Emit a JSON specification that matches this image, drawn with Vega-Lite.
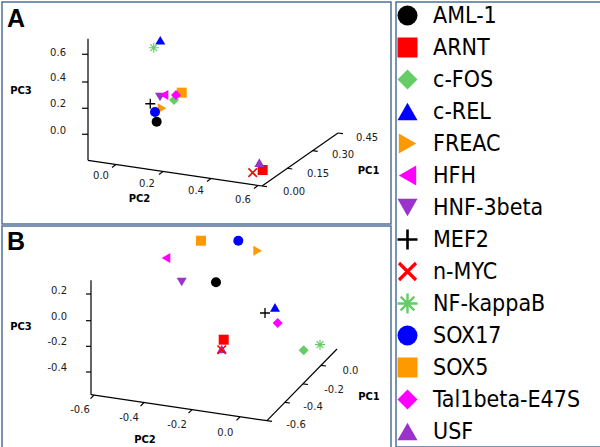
{
  "$schema": "https://vega.github.io/schema/vega-lite/v6.json",
  "background": "white",
  "padding": {"left": 1, "top": 1, "right": 0, "bottom": 0},
  "spacing": 0,
  "config": {
    "view": {"stroke": "#50709a", "strokeWidth": 1.5},
    "legend": {
      "title": null, "orient": "none", "legendX": 389, "legendY": -1, "padding": 3, "rowPadding": 8,
      "symbolSize": 400, "symbolOffset": 2, "labelOffset": 14, "labelFontSize": 23,
      "labelFont": "DejaVu Sans Condensed, Liberation Sans", "labelColor": "#000", "labelLimit": 300
    }
  },
  "datasets": {
    "pointsA": [
      {"name": "AML-1", "u": 0.515, "v": 0.092},
      {"name": "ARNT", "u": 1.31, "v": -0.27},
      {"name": "c-FOS", "u": 0.645, "v": 0.255},
      {"name": "c-REL", "u": 0.542, "v": 0.703},
      {"name": "FREAC", "u": 0.555, "v": 0.193},
      {"name": "HNF-3beta", "u": 0.54, "v": 0.2775},
      {"name": "HFH", "u": 0.57, "v": 0.2925},
      {"name": "MEF2", "u": 0.467, "v": 0.227},
      {"name": "n-MYC", "u": 1.235, "v": -0.29},
      {"name": "NF-kappaB", "u": 0.493, "v": 0.647},
      {"name": "SOX17", "u": 0.5025, "v": 0.165},
      {"name": "SOX5", "u": 0.703, "v": 0.31},
      {"name": "Tal1beta-E47S", "u": 0.66, "v": 0.2925},
      {"name": "USF", "u": 1.285, "v": -0.215}
    ],
    "axesA": [
      {"u": 0, "v": 0.7148, "u2": 0, "v2": -0.1973},
      {"u": 0, "v": -0.1973, "u2": 1.305, "v2": -0.39},
      {"u": 1.305, "v": -0.39, "u2": 1.875, "v2": 0.0075},
      {"u": -0.045, "v": 0.598, "u2": 0, "v2": 0.598},
      {"u": -0.045, "v": 0.39, "u2": 0, "v2": 0.39},
      {"u": -0.045, "v": 0.193, "u2": 0, "v2": 0.193},
      {"u": -0.045, "v": -0.002, "u2": 0, "v2": -0.002},
      {"u": 0.21, "v": -0.228, "u2": 0.18, "v2": -0.2505},
      {"u": 0.5625, "v": -0.2805, "u2": 0.5325, "v2": -0.303},
      {"u": 0.9225, "v": -0.334, "u2": 0.8925, "v2": -0.356},
      {"u": 1.275, "v": -0.386, "u2": 1.245, "v2": -0.409},
      {"u": 1.305, "v": -0.39, "u2": 1.3425, "v2": -0.395},
      {"u": 1.495, "v": -0.257, "u2": 1.532, "v2": -0.2625},
      {"u": 1.685, "v": -0.125, "u2": 1.7225, "v2": -0.1305},
      {"u": 1.875, "v": 0.0075, "u2": 1.9125, "v2": 0.0023}
    ],
    "pc3labA": [
      {"t": "0.6", "u": -0.165, "v": 0.61},
      {"t": "0.4", "u": -0.165, "v": 0.4225},
      {"t": "0.2", "u": -0.165, "v": 0.2225},
      {"t": "0.0", "u": -0.165, "v": 0.0225}
    ],
    "labA": [
      {"t": "0.0", "u": 0.0975, "v": -0.315},
      {"t": "0.2", "u": 0.4425, "v": -0.375},
      {"t": "0.4", "u": 0.81, "v": -0.4275},
      {"t": "0.6", "u": 1.1625, "v": -0.495},
      {"t": "0.00", "u": 1.545, "v": -0.435},
      {"t": "0.15", "u": 1.725, "v": -0.3},
      {"t": "0.30", "u": 1.9125, "v": -0.1575},
      {"t": "0.45", "u": 2.0925, "v": -0.03}
    ],
    "titlesA": [
      {"t": "PC3", "u": -0.5025, "v": 0.3248},
      {"t": "PC2", "u": 0.386, "v": -0.4875},
      {"t": "PC1", "u": 2.104, "v": -0.2775}
    ],
    "letterA": [{"t": "A", "u": -0.6075, "v": 0.8025}],
    "pointsB": [
      {"name": "AML-1", "u": 0.9615, "v": 0.2977},
      {"name": "ARNT", "u": 1.0208, "v": -0.1438},
      {"name": "c-FOS", "u": 1.6362, "v": -0.2254},
      {"name": "c-REL", "u": 1.4154, "v": 0.1054},
      {"name": "FREAC", "u": 1.2823, "v": 0.5408},
      {"name": "HNF-3beta", "u": 0.6977, "v": 0.3},
      {"name": "HFH", "u": 0.5769, "v": 0.4846},
      {"name": "MEF2", "u": 1.3385, "v": 0.0615},
      {"name": "USF", "u": 1.0054, "v": -0.2154},
      {"name": "n-MYC", "u": 1.0054, "v": -0.2208},
      {"name": "NF-kappaB", "u": 1.7615, "v": -0.1823},
      {"name": "SOX17", "u": 1.1331, "v": 0.6177},
      {"name": "SOX5", "u": 0.8462, "v": 0.6177},
      {"name": "Tal1beta-E47S", "u": 1.4362, "v": -0.0154}
    ],
    "axesB": [
      {"u": 0, "v": 0.3131, "u2": 0, "v2": -0.5669},
      {"u": 0, "v": -0.5669, "u2": 1.3538, "v2": -0.7669},
      {"u": 1.3538, "v": -0.7669, "u2": 1.8923, "v2": -0.2154},
      {"u": -0.0385, "v": 0.2077, "u2": 0, "v2": 0.2077},
      {"u": -0.0385, "v": 0.0023, "u2": 0, "v2": 0.0023},
      {"u": -0.0385, "v": -0.1946, "u2": 0, "v2": -0.1946},
      {"u": -0.0385, "v": -0.3923, "u2": 0, "v2": -0.3923},
      {"u": 0.0231, "v": -0.57, "u2": -0.0038, "v2": -0.5977},
      {"u": 0.4077, "v": -0.6269, "u2": 0.3808, "v2": -0.6546},
      {"u": 0.7769, "v": -0.6815, "u2": 0.75, "v2": -0.7092},
      {"u": 1.1462, "v": -0.7362, "u2": 1.1192, "v2": -0.7638},
      {"u": 1.3538, "v": -0.7669, "u2": 1.3923, "v2": -0.7723},
      {"u": 1.4923, "v": -0.6254, "u2": 1.5308, "v2": -0.6308},
      {"u": 1.6308, "v": -0.4831, "u2": 1.6692, "v2": -0.4885},
      {"u": 1.7692, "v": -0.3408, "u2": 1.8077, "v2": -0.3462}
    ],
    "pc3labB": [
      {"t": "0.2", "u": -0.1846, "v": 0.2285},
      {"t": "0.0", "u": -0.1846, "v": 0.0308},
      {"t": "-0.2", "u": -0.1846, "v": -0.1615},
      {"t": "-0.4", "u": -0.1846, "v": -0.3615}
    ],
    "labB": [
      {"t": "-0.6", "u": -0.0846, "v": -0.6823},
      {"t": "-0.4", "u": 0.2923, "v": -0.7462},
      {"t": "-0.2", "u": 0.6615, "v": -0.8023},
      {"t": "0.0", "u": 1.0331, "v": -0.8615},
      {"t": "-0.6", "u": 1.5769, "v": -0.7977},
      {"t": "-0.4", "u": 1.7077, "v": -0.6638},
      {"t": "-0.2", "u": 1.8692, "v": -0.5285},
      {"t": "0.0", "u": 1.9962, "v": -0.3869}
    ],
    "titlesB": [
      {"t": "PC3", "u": -0.5385, "v": -0.0438},
      {"t": "PC2", "u": 0.4154, "v": -0.9154},
      {"t": "PC1", "u": 2.1385, "v": -0.5823}
    ],
    "letterB": [{"t": "B", "u": -0.6462, "v": 0.5485}]
  },
  "hconcat": [
    {
      "spacing": 0,
      "vconcat": [
        {
          "width": 389, "height": 222,
          "layer": [
            {
              "data": {"name": "axesA"},
              "mark": {"type": "rule", "color": "#000", "strokeWidth": 1.2},
              "encoding": {
                "x": {"field": "u", "type": "quantitative", "scale": {"domain": [-0.645, 2.2725], "nice": false, "zero": false}, "axis": null},
                "y": {"field": "v", "type": "quantitative", "scale": {"domain": [-0.675, 0.99], "nice": false, "zero": false}, "axis": null},
                "x2": {"field": "u2"}, "y2": {"field": "v2"}
              }
            },
            {
              "data": {"name": "pc3labA"},
              "mark": {"type": "text", "align": "right", "baseline": "middle", "font": "DejaVu Sans", "fontSize": 10, "color": "#1a1a1a"},
              "encoding": {
                "x": {"field": "u", "type": "quantitative", "scale": {"domain": [-0.645, 2.2725], "nice": false, "zero": false}, "axis": null},
                "y": {"field": "v", "type": "quantitative", "scale": {"domain": [-0.675, 0.99], "nice": false, "zero": false}, "axis": null},
                "text": {"field": "t"}
              }
            },
            {
              "data": {"name": "labA"},
              "mark": {"type": "text", "align": "center", "baseline": "middle", "font": "DejaVu Sans", "fontSize": 10, "color": "#1a1a1a"},
              "encoding": {
                "x": {"field": "u", "type": "quantitative", "scale": {"domain": [-0.645, 2.2725], "nice": false, "zero": false}, "axis": null},
                "y": {"field": "v", "type": "quantitative", "scale": {"domain": [-0.675, 0.99], "nice": false, "zero": false}, "axis": null},
                "text": {"field": "t"}
              }
            },
            {
              "data": {"name": "titlesA"},
              "mark": {"type": "text", "align": "center", "baseline": "middle", "font": "DejaVu Sans", "fontWeight": "bold", "fontSize": 10, "color": "#000"},
              "encoding": {
                "x": {"field": "u", "type": "quantitative", "scale": {"domain": [-0.645, 2.2725], "nice": false, "zero": false}, "axis": null},
                "y": {"field": "v", "type": "quantitative", "scale": {"domain": [-0.675, 0.99], "nice": false, "zero": false}, "axis": null},
                "text": {"field": "t"}
              }
            },
            {
              "data": {"name": "letterA"},
              "mark": {"type": "text", "align": "left", "baseline": "alphabetic", "font": "Liberation Sans", "fontWeight": "bold", "fontSize": 25, "color": "#000"},
              "encoding": {
                "x": {"field": "u", "type": "quantitative", "scale": {"domain": [-0.645, 2.2725], "nice": false, "zero": false}, "axis": null},
                "y": {"field": "v", "type": "quantitative", "scale": {"domain": [-0.675, 0.99], "nice": false, "zero": false}, "axis": null},
                "text": {"field": "t"}
              }
            },
            {
              "data": {"name": "pointsA"},
              "mark": {"type": "point", "filled": true, "size": 100, "opacity": 1},
              "encoding": {
                "x": {"field": "u", "type": "quantitative", "scale": {"domain": [-0.645, 2.2725], "nice": false, "zero": false}, "axis": null},
                "y": {"field": "v", "type": "quantitative", "scale": {"domain": [-0.675, 0.99], "nice": false, "zero": false}, "axis": null},
                "color": {"field": "name", "type": "nominal",
                  "scale": {"domain": ["AML-1", "ARNT", "c-FOS", "c-REL", "FREAC", "HFH", "HNF-3beta", "MEF2", "n-MYC", "NF-kappaB", "SOX17", "SOX5", "Tal1beta-E47S", "USF"],
                    "range": ["#000000", "#ff0000", "#66cc66", "#0000ff", "#ff9900", "#ff00ff", "#9933cc", "#000000", "#ff0000", "#66cc66", "#0000ff", "#ff9900", "#ff00ff", "#9933cc"]}},
                "shape": {"field": "name", "type": "nominal",
                  "scale": {"domain": ["AML-1", "ARNT", "c-FOS", "c-REL", "FREAC", "HFH", "HNF-3beta", "MEF2", "n-MYC", "NF-kappaB", "SOX17", "SOX5", "Tal1beta-E47S", "USF"],
                    "range": ["circle", "square", "diamond", "triangle-up", "triangle-right", "triangle-left", "triangle-down",
                      "M-1,-0.13H-0.13V-1H0.13V-0.13H1V0.13H0.13V1H-0.13V0.13H-1Z",
                      "M-0.737,-0.963L0.963,0.737L0.737,0.963L-0.963,-0.737ZM-0.737,0.963L-0.963,0.737L0.737,-0.963L0.963,-0.737Z",
                      "M-1,-0.12L1,-0.12L1,0.12L-1,0.12ZM-0.12,-1L0.12,-1L0.12,1L-0.12,1ZM-0.6,-0.77L0.77,0.6L0.6,0.77L-0.77,-0.6ZM-0.6,0.77L-0.77,0.6L0.6,-0.77L0.77,-0.6Z",
                      "circle", "square", "diamond", "triangle-up"]}}
              }
            }
          ]
        },
        {
          "width": 389, "height": 223,
          "layer": [
            {
              "data": {"name": "axesB"},
              "mark": {"type": "rule", "color": "#000", "strokeWidth": 1.2},
              "encoding": {
                "x": {"field": "u", "type": "quantitative", "scale": {"domain": [-0.6846, 2.3077], "nice": false, "zero": false}, "axis": null},
                "y": {"field": "v", "type": "quantitative", "scale": {"domain": [-0.9846, 0.7308], "nice": false, "zero": false}, "axis": null},
                "x2": {"field": "u2"}, "y2": {"field": "v2"}
              }
            },
            {
              "data": {"name": "pc3labB"},
              "mark": {"type": "text", "align": "right", "baseline": "middle", "font": "DejaVu Sans", "fontSize": 10, "color": "#1a1a1a"},
              "encoding": {
                "x": {"field": "u", "type": "quantitative", "scale": {"domain": [-0.6846, 2.3077], "nice": false, "zero": false}, "axis": null},
                "y": {"field": "v", "type": "quantitative", "scale": {"domain": [-0.9846, 0.7308], "nice": false, "zero": false}, "axis": null},
                "text": {"field": "t"}
              }
            },
            {
              "data": {"name": "labB"},
              "mark": {"type": "text", "align": "center", "baseline": "middle", "font": "DejaVu Sans", "fontSize": 10, "color": "#1a1a1a"},
              "encoding": {
                "x": {"field": "u", "type": "quantitative", "scale": {"domain": [-0.6846, 2.3077], "nice": false, "zero": false}, "axis": null},
                "y": {"field": "v", "type": "quantitative", "scale": {"domain": [-0.9846, 0.7308], "nice": false, "zero": false}, "axis": null},
                "text": {"field": "t"}
              }
            },
            {
              "data": {"name": "titlesB"},
              "mark": {"type": "text", "align": "center", "baseline": "middle", "font": "DejaVu Sans", "fontWeight": "bold", "fontSize": 10, "color": "#000"},
              "encoding": {
                "x": {"field": "u", "type": "quantitative", "scale": {"domain": [-0.6846, 2.3077], "nice": false, "zero": false}, "axis": null},
                "y": {"field": "v", "type": "quantitative", "scale": {"domain": [-0.9846, 0.7308], "nice": false, "zero": false}, "axis": null},
                "text": {"field": "t"}
              }
            },
            {
              "data": {"name": "letterB"},
              "mark": {"type": "text", "align": "left", "baseline": "alphabetic", "font": "Liberation Sans", "fontWeight": "bold", "fontSize": 25, "color": "#000"},
              "encoding": {
                "x": {"field": "u", "type": "quantitative", "scale": {"domain": [-0.6846, 2.3077], "nice": false, "zero": false}, "axis": null},
                "y": {"field": "v", "type": "quantitative", "scale": {"domain": [-0.9846, 0.7308], "nice": false, "zero": false}, "axis": null},
                "text": {"field": "t"}
              }
            },
            {
              "data": {"name": "pointsB"},
              "mark": {"type": "point", "filled": true, "size": 100, "opacity": 1},
              "encoding": {
                "x": {"field": "u", "type": "quantitative", "scale": {"domain": [-0.6846, 2.3077], "nice": false, "zero": false}, "axis": null},
                "y": {"field": "v", "type": "quantitative", "scale": {"domain": [-0.9846, 0.7308], "nice": false, "zero": false}, "axis": null},
                "color": {"field": "name", "type": "nominal"},
                "shape": {"field": "name", "type": "nominal"}
              }
            }
          ]
        }
      ]
    },
    {
      "width": 208, "height": 445,
      "data": {"values": [{"k": 0}]},
      "mark": {"type": "point", "opacity": 0},
      "encoding": {
        "x": {"field": "k", "type": "quantitative", "scale": {"domain": [0, 1]}, "axis": null},
        "y": {"field": "k", "type": "quantitative", "scale": {"domain": [0, 1]}, "axis": null}
      }
    }
  ]
}
